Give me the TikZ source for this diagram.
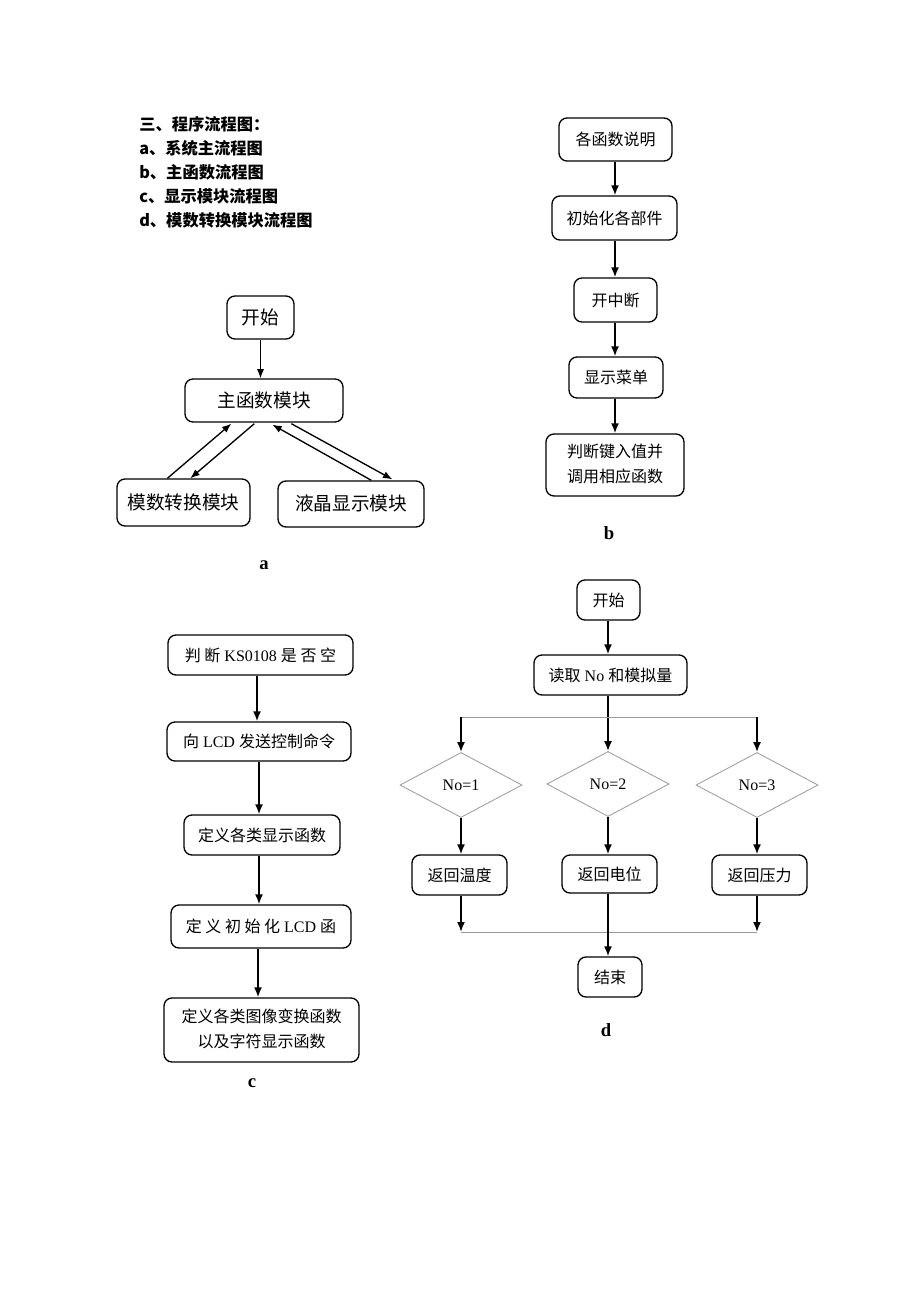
\documentclass[tikz,border=0pt]{standalone}
\usepackage{fontspec}
\setmainfont{Liberation Serif}
\newfontfamily\cjk{Noto Sans CJK SC}
\usetikzlibrary{arrows.meta,calc,shapes.geometric}
\newcommand{\twolines}[2]{\begin{tabular}{@{}c@{}}#1\\#2\end{tabular}}
\tikzset{
  sz/.style 2 args={minimum width=#1*0.75pt, minimum height=#2*0.75pt},
  box/.style={draw=black, line width=1pt, rounded corners=6pt, inner sep=0pt, text height=9pt, text depth=0pt, font=\fontsize{12}{18.75}\selectfont},
  twobox/.style={draw=black, line width=1pt, rounded corners=6pt, inner sep=0pt, font=\fontsize{12}{18.75}\selectfont},
  bigbox/.style={box, text height=10pt, font=\fontsize{14}{17}\selectfont},
  dia/.style={draw=gray!80, line width=0.6pt, diamond, inner sep=0pt, minimum width=91.5pt, minimum height=48.75pt, font=\fontsize{12}{14}\selectfont},
  arr/.style={-{Latex[length=7.5pt,width=6pt]}, line width=1.3pt},
  tarr/.style={-{Latex[length=7pt,width=5.5pt]}, line width=1pt},
  thin/.style={draw=gray!80, line width=0.6pt},
  lab/.style={font=\fontsize{14}{16}\selectfont\bfseries},
  head/.style={anchor=west, inner sep=0pt, font=\cjk\fontsize{12.2}{14}\selectfont\bfseries}
}
\begin{document}
\begin{tikzpicture}[x=0.75pt,y=-0.75pt]
\useasboundingbox[fill=white] (0,0) rectangle (920,1302);
% header
\node[head] (h0) at (139,124) {三、程序流程图：};
\node[head] (h1) at (139,148) {a、系统主流程图};
\node[head] (h2) at (139,172) {b、主函数流程图};
\node[head] (h3) at (139,196) {c、显示模块流程图};
\node[head] (h4) at (139,220) {d、模数转换模块流程图};
% diagram a
\node[bigbox, sz={67}{43}] (astart) at (260.5,317.5) {\cjk 开始};
\node[bigbox, sz={158}{43}] (amain) at (264,400.5) {\cjk 主函数模块};
\node[bigbox, sz={133}{47}] (aadc) at (183.5,502.5) {\cjk 模数转换模块};
\node[bigbox, sz={146}{46}] (alcd) at (351,504) {\cjk 液晶显示模块};
\draw[tarr] (astart.south) -- (astart.south |- amain.north);
\draw[tarr] ($(aadc.north west)+(51,0)$) -- ($(amain.south west)+(47,1)$);
\draw[tarr] ($(amain.south west)+(70,1)$) -- ($(aadc.north west)+(74,0)$);
\draw[tarr] ($(alcd.north west)+(94,0)$) -- ($(amain.south west)+(88,2)$);
\draw[tarr] ($(amain.south west)+(107,1)$) -- ($(alcd.north west)+(115,-1)$);
\node[lab] (la) at (264,565) {a};
% diagram b
\node[box, sz={113}{43}] (b1) at (615.5,139.5) {\cjk 各函数说明};
\node[box, sz={125}{44}] (b2) at (614.5,218) {\cjk 初始化各部件};
\node[box, sz={83}{44}] (b3) at (615.5,300) {\cjk 开中断};
\node[box, sz={94}{41}] (b4) at (616,377.5) {\cjk 显示菜单};
\node[twobox, sz={138}{62}] (b5) at (615,465) {\twolines{\cjk 判断键入值并}{\cjk 调用相应函数}};
\draw[arr] (b1.south -| 615,0) -- (b2.north -| 615,0);
\draw[arr] (b2.south -| 615,0) -- (b3.north -| 615,0);
\draw[arr] (b3.south -| 615,0) -- (b4.north -| 615,0);
\draw[arr] (b4.south -| 615,0) -- (b5.north -| 615,0);
\node[lab] (lb) at (609,533) {b};
% diagram c
\node[box, sz={185}{40}] (c1) at (260.5,655) {{\cjk 判 断} KS0108 {\cjk 是 否 空}};
\node[box, sz={184}{39}] (c2) at (259,741.5) {{\cjk 向} LCD {\cjk 发送控制命令}};
\node[box, sz={156}{40}] (c3) at (262,835) {\cjk 定义各类显示函数};
\node[box, sz={180}{43}] (c4) at (261,926.5) {{\cjk 定 义 初 始 化} LCD {\cjk 函}};
\node[twobox, sz={195}{64}] (c5) at (261.5,1030) {\twolines{\cjk 定义各类图像变换函数}{\cjk 以及字符显示函数}};
\draw[arr] (c1.south -| 257,0) -- (c2.north -| 257,0);
\draw[arr] (c2.south -| 259,0) -- (c3.north -| 259,0);
\draw[arr] (c3.south -| 259,0) -- (c4.north -| 259,0);
\draw[arr] (c4.south -| 258,0) -- (c5.north -| 258,0);
\node[lab] (lc) at (252,1083) {c};
% diagram d
\node[box, sz={63}{40}] (dstart) at (608.5,600) {\cjk 开始};
\node[box, sz={153}{40}] (dread) at (610.5,675) {{\cjk 读取} No {\cjk 和模拟量}};
\node[dia] (d1) at (461,785) {No=1};
\node[dia] (d2) at (608,784) {No=2};
\node[dia] (d3) at (757,785) {No=3};
\node[box, sz={95}{40}] (r1) at (459.5,875) {\cjk 返回温度};
\node[box, sz={95}{38}] (r2) at (609.5,874) {\cjk 返回电位};
\node[box, sz={95}{40}] (r3) at (759.5,875) {\cjk 返回压力};
\node[box, sz={64}{40}] (dend) at (610,977) {\cjk 结束};
\coordinate (split) at (608,717);
\coordinate (merge) at (608,932);
\draw[arr] (dstart.south -| 608,0) -- (dread.north -| 608,0);
\draw[arr] (dread.south -| 608,0) -- (d2.north);
\draw[thin] (d1.north |- split) -- (d3.north |- split);
\draw[arr] (d1.north |- split) -- (d1.north);
\draw[arr] (d3.north |- split) -- (d3.north);
\draw[arr] (d1.south) -- (r1.north -| d1.south);
\draw[arr] (d2.south) -- (r2.north -| d2.south);
\draw[arr] (d3.south) -- (r3.north -| d3.south);
\draw[arr] (r1.south -| d1.south) -- (d1.south |- merge);
\draw[arr] (r3.south -| d3.south) -- (d3.south |- merge);
\draw[thin] (d1.south |- merge) -- (d3.south |- merge);
\draw[arr] (r2.south -| d2.south) -- (dend.north -| d2.south);
\node[lab] (ld) at (606,1030) {d};
\end{tikzpicture}
\end{document}
